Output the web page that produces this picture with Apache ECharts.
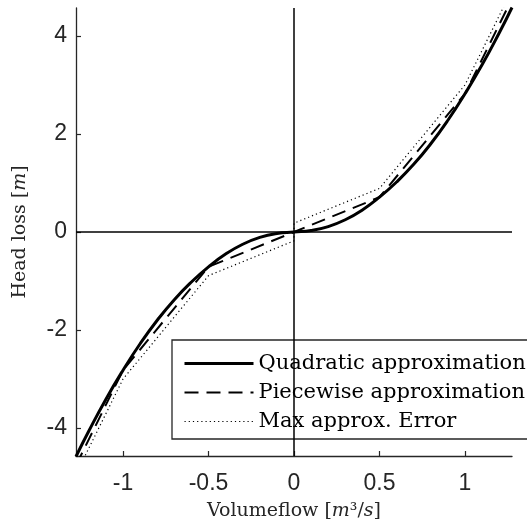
<!DOCTYPE html>
<html><head><meta charset="utf-8">
<script src="https://cdn.jsdelivr.net/npm/echarts@6/dist/echarts.min.js"></script>
<style>html,body{margin:0;padding:0;background:#fff}#c{width:527px;height:527px}</style>
</head><body><div id="c"></div>
<script>
// Quadratic approximation
const qQuad = [-1.275,-1.2,-1.1,-1.0,-0.9,-0.8,-0.7,-0.6,-0.5,-0.4,-0.3,-0.2,-0.1,0,0.1,0.2,0.3,0.4,0.5,0.6,0.7,0.8,0.9,1.0,1.1,1.2,1.275];
const hQuad = [-4.58,-4.06,-3.41,-2.82,-2.28,-1.80,-1.38,-1.02,-0.71,-0.45,-0.25,-0.11,-0.03,0,0.03,0.11,0.25,0.45,0.71,1.02,1.38,1.80,2.28,2.82,3.41,4.06,4.58];
// Piecewise approximation
const qPw = [-1.275,-1.0,-0.5,0,0.5,1.0,1.275];
const hPw = [-4.76,-2.82,-0.71,0,0.71,2.82,4.76];
// Max approx. error
const qErr = [-1.275,-1.0,-0.5,0,0,0.5,1.0,1.275];
const hErr = [-4.94,-3.0,-0.89,-0.18,0.18,0.89,3.0,4.94];
// ticks
const xTicks = [-1,-0.5,0,0.5,1];
const yTicks = [-4,-2,0,2,4];
const names = ['Quadratic approximation','Piecewise approximation','Max approx. Error'];

const pair = (a,b)=>a.map((v,i)=>[v,b[i]]);
const axCol = '#262626';
const sansF = '"Liberation Sans", Arial, sans-serif';
const serifF = '"DejaVu Serif", serif';

const chart = echarts.init(document.getElementById('c'), null, {renderer:'canvas'});
chart.setOption({
  animation:false,
  backgroundColor:'#fff',
  color:['#000','#000','#000'],
  grid:{left:76,right:15,top:8,bottom:71,containLabel:false},
  xAxis:{type:'value',min:-1.275,max:1.275,
    axisLine:{show:true,onZero:false,lineStyle:{color:axCol,width:1.3}},
    axisTick:{show:true,inside:true,length:5,customValues:xTicks,lineStyle:{color:axCol,width:1.2}},
    axisLabel:{customValues:xTicks,margin:16,color:axCol,fontFamily:sansF,fontSize:23,formatter:v=>String(v)},
    splitLine:{show:false},
    name:'{a|Volumeflow [}{i|m}{a|³/}{i|s}{a|]}',nameLocation:'middle',nameGap:46,
    nameTextStyle:{rich:{a:{fontFamily:serifF,fontSize:19,color:axCol},i:{fontFamily:serifF,fontSize:19,fontStyle:'italic',color:axCol}}}
  },
  yAxis:{type:'value',min:-4.57,max:4.57,
    axisLine:{show:true,onZero:false,lineStyle:{color:axCol,width:1.3}},
    axisTick:{show:true,inside:true,length:5,customValues:yTicks,lineStyle:{color:axCol,width:1.2}},
    axisLabel:{customValues:yTicks,margin:9,color:axCol,fontFamily:sansF,fontSize:23,formatter:v=>String(v)},
    splitLine:{show:false},
    name:'{a|Head loss [}{i|m}{a|]}',nameLocation:'middle',nameGap:46,
    nameTextStyle:{rich:{a:{fontFamily:serifF,fontSize:19,color:axCol},i:{fontFamily:serifF,fontSize:19,fontStyle:'italic',color:axCol}}}
  },
  legend:{show:true,orient:'vertical',left:172,top:340,selectedMode:false,
    data:[
      {name:names[0],lineStyle:{width:3}},
      {name:names[1],lineStyle:{width:2}},
      {name:names[2],lineStyle:{width:1.2}}
    ],
    backgroundColor:'#fff',borderColor:axCol,borderWidth:1.3,borderRadius:0,
    padding:[13,80,7,11],itemWidth:69,itemHeight:20,itemGap:8,
    itemStyle:{opacity:0},
    textStyle:{fontFamily:serifF,fontSize:21,color:'#000',lineHeight:20}
  },
  series:[
    {name:names[0],type:'line',data:pair(qQuad,hQuad),smooth:true,symbol:'none',
      itemStyle:{color:'#000'},lineStyle:{color:'#000',width:3},
      markLine:{silent:true,symbol:'none',label:{show:false},lineStyle:{color:'#000',width:1.5,type:'solid'},
        data:[{yAxis:0},{xAxis:0}]},z:3},
    {name:names[1],type:'line',data:pair(qPw,hPw),symbol:'none',
      itemStyle:{color:'#000'},lineStyle:{color:'#000',width:2,type:[14,8]},z:4},
    {name:names[2],type:'line',data:pair(qErr,hErr),symbol:'none',
      itemStyle:{color:'#000'},lineStyle:{color:'#000',width:1.2,type:[1.2,3]},z:5}
  ]
});
</script></body></html>
